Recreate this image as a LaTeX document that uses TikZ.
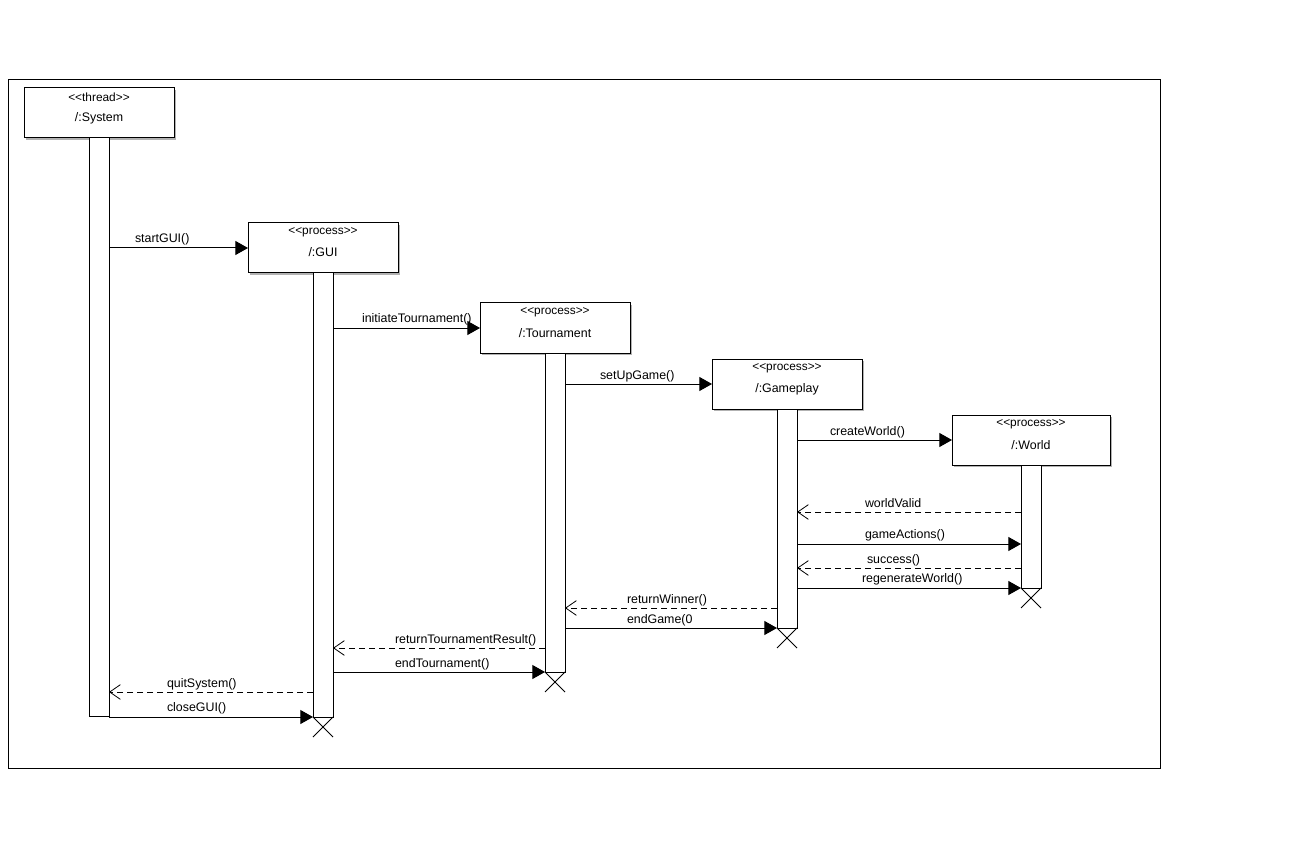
\documentclass[tikz,border=0pt]{standalone}
\usepackage{fontspec}
\setmainfont{Liberation Sans}
\usetikzlibrary{arrows.meta,fit,shadows}
\newcommand{\stype}[1]{{<}{<}#1{>}{>}}
\begin{document}
\begin{tikzpicture}[x=0.75pt,y=-0.75pt,
  every node/.style={font=\fontsize{9.3pt}{11pt}\selectfont, inner sep=0pt, outer sep=0pt},
  frame/.style={draw, line width=0.75pt},
  head/.style={draw, fill=white, line width=0.75pt,
    drop shadow={shadow xshift=1.2pt, shadow yshift=-1.2pt, fill=black!30, opacity=1}},
  bar/.style={draw, fill=white, line width=0.75pt},
  stereo/.style={font=\fontsize{8.9pt}{10pt}\selectfont},
  msg/.style={anchor=base west},
  call/.style={line width=0.75pt, -{Triangle[length=9.5pt,width=10.5pt]}},
  reply/.style={line width=0.75pt, dash pattern=on 4.5pt off 3pt,
    -{Straight Barb[length=8pt,width=11pt,line width=0.6pt]}},
  kill/.style={line width=0.6pt},
]
\useasboundingbox (0,0) rectangle (1312,848);

% diagram frame
\node[frame, fit={(8,80)(1160,768)}] (frame) {};

% lifeline heads
\node[head, fit={(24,88)(174,138)}] (sys) {};
\node[stereo] (sysst) at (99,97.5) {\stype{thread}};
\node (sysnm) at (99,118.5) {/:System};

\node[head, fit={(248,223)(398,273)}] (gui) {};
\node[stereo] (guist) at (323,232.5) {\stype{process}};
\node (guinm) at (323,252.5) {/:GUI};

\node[head, fit={(480,303)(630,353)}] (tour) {};
\node[stereo] (tourst) at (555,312.5) {\stype{process}};
\node (tournm) at (555,333.5) {/:Tournament};

\node[head, fit={(712,359)(862,409)}] (game) {};
\node[stereo] (gamest) at (787,368.5) {\stype{process}};
\node (gamenm) at (787,389.5) {/:Gameplay};

\node[head, fit={(952,415)(1110,465)}] (world) {};
\node[stereo] (worldst) at (1031,424.5) {\stype{process}};
\node (worldnm) at (1031,445.5) {/:World};

% activation bars
\node[bar, fit={(89,138)(109,716)}] (sysbar) {};
\node[bar, fit={(313,273)(333,717)}] (guibar) {};
\node[bar, fit={(545,353)(565,672)}] (tourbar) {};
\node[bar, fit={(777,409)(797,628)}] (gamebar) {};
\node[bar, fit={(1021,465)(1041,588)}] (worldbar) {};

% message rows
\coordinate (yWV) at (0,512);
\coordinate (yGA) at (0,544);
\coordinate (ySU) at (0,568);
\coordinate (yRW) at (0,588);
\coordinate (yRN) at (0,608);
\coordinate (yEG) at (0,628);
\coordinate (yRT) at (0,648);
\coordinate (yET) at (0,672);
\coordinate (yQS) at (0,692);
\coordinate (yCG) at (0,717);

% creation messages
\draw[call] (sysbar.east |- gui.west) -- (gui.west);
\node[msg] (lstart) at (135,243) {startGUI()};
\draw[call] (guibar.east |- tour.west) -- (tour.west);
\node[msg] (linit) at (362,323) {initiateTournament()};
\draw[call] (tourbar.east |- game.west) -- (game.west);
\node[msg] (lsetup) at (600,379) {setUpGame()};
\draw[call] (gamebar.east |- world.west) -- (world.west);
\node[msg] (lcreate) at (830,435) {createWorld()};

% Gameplay <-> World
\draw[reply] (worldbar.west |- yWV) -- (gamebar.east |- yWV);
\node[msg] (lvalid) at (865,507) {worldValid};
\draw[call] (gamebar.east |- yGA) -- (worldbar.west |- yGA);
\node[msg] (lactions) at (865,538) {gameActions()};
\draw[reply] (worldbar.west |- ySU) -- (gamebar.east |- ySU);
\node[msg] (lsuccess) at (867,563) {success()};
\draw[call] (gamebar.east |- yRW) -- (worldbar.west |- yRW);
\node[msg] (lregen) at (862,582) {regenerateWorld()};

% Tournament <-> Gameplay
\draw[reply] (gamebar.west |- yRN) -- (tourbar.east |- yRN);
\node[msg] (lwinner) at (627,603) {returnWinner()};
\draw[call] (tourbar.east |- yEG) -- (gamebar.west |- yEG);
\node[msg] (lendgame) at (627,623) {endGame(0};

% GUI <-> Tournament
\draw[reply] (tourbar.west |- yRT) -- (guibar.east |- yRT);
\node[msg] (lresult) at (395,643) {returnTournamentResult()};
\draw[call] (guibar.east |- yET) -- (tourbar.west |- yET);
\node[msg] (lendtour) at (395,667) {endTournament()};

% System <-> GUI
\draw[reply] (guibar.west |- yQS) -- (sysbar.east |- yQS);
\node[msg] (lquit) at (167,687) {quitSystem()};
\draw[call] (sysbar.east |- yCG) -- (guibar.west |- yCG);
\node[msg] (lclose) at (167,711) {closeGUI()};

% destruction marks
\foreach \b in {guibar,tourbar,gamebar,worldbar}{
  \draw[kill] (\b.south west) -- ++(20,20);
  \draw[kill] (\b.south east) -- ++(-20,20);
}
\end{tikzpicture}
\end{document}
